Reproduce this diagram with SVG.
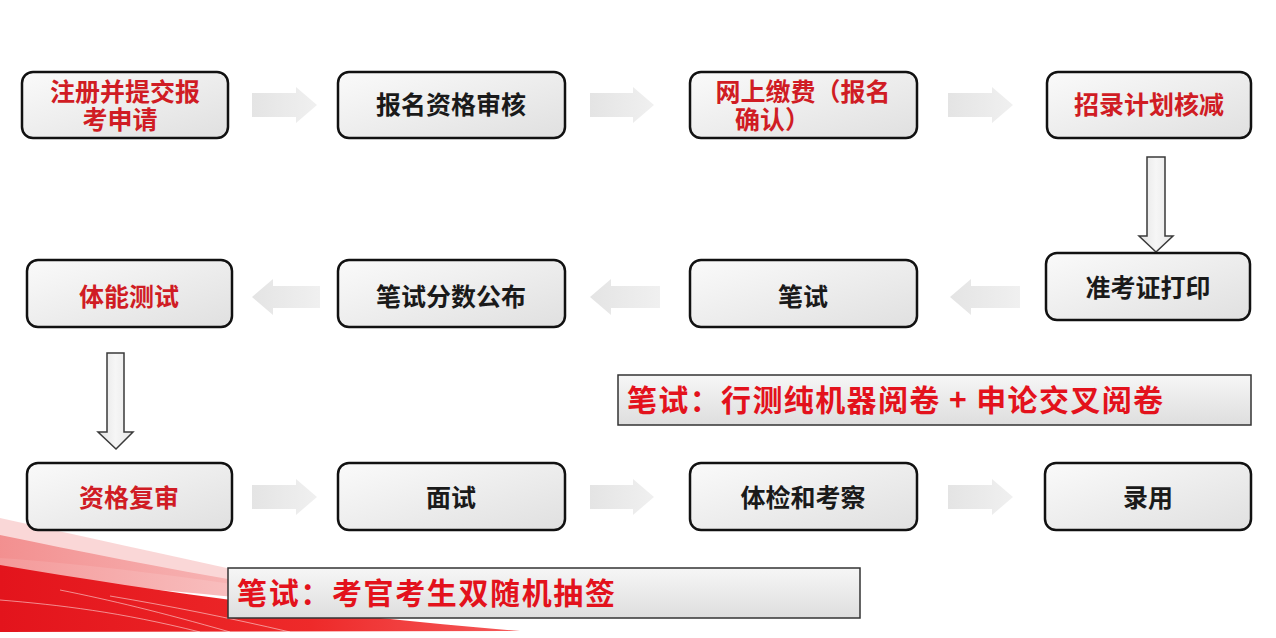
<svg xmlns="http://www.w3.org/2000/svg" width="1276" height="638" viewBox="0 0 1276 638">
<defs>
  <linearGradient id="boxg" x1="0" y1="0" x2="1" y2="1">
    <stop offset="0" stop-color="#fafafa"/>
    <stop offset="1" stop-color="#e0e0e0"/>
  </linearGradient>
  <linearGradient id="arrg" x1="0" y1="0" x2="1" y2="0">
    <stop offset="0" stop-color="#e4e4e4"/>
    <stop offset="1" stop-color="#f0f0f0"/>
  </linearGradient>
  <linearGradient id="varrg" x1="0" y1="0" x2="1" y2="0">
    <stop offset="0" stop-color="#e2e2e2"/>
    <stop offset="0.5" stop-color="#f6f6f6"/>
    <stop offset="1" stop-color="#e6e6e6"/>
  </linearGradient>
  <linearGradient id="callg" x1="0" y1="0" x2="0" y2="1">
    <stop offset="0" stop-color="#f6f6f6"/>
    <stop offset="1" stop-color="#dedede"/>
  </linearGradient>
  <linearGradient id="redg" x1="0" y1="0" x2="1" y2="0">
    <stop offset="0" stop-color="#e3141c"/>
    <stop offset="0.6" stop-color="#ee2a2a"/>
    <stop offset="1" stop-color="#f55a5a"/>
  </linearGradient>
  <linearGradient id="pinkg" x1="0" y1="0" x2="1" y2="0">
    <stop offset="0" stop-color="#f07878"/>
    <stop offset="1" stop-color="#fbd0d0"/>
  </linearGradient>
  <style>
    .box { fill: url(#boxg); stroke: #111; stroke-width: 2.5; }
    .t { font-family: "Liberation Serif", "Noto Sans CJK SC", serif; font-weight: bold; font-size: 25px; text-anchor: middle; }
    .red { fill: #d01c24; }
    .blk { fill: #1a1a1a; }
    .harr { fill: url(#arrg); }
    .varr { fill: url(#varrg); stroke: #3a3a3a; stroke-width: 1.5; }
    .call { fill: url(#callg); stroke: #333; stroke-width: 1.5; }
    .ct { font-family: "Noto Sans CJK SC", sans-serif; font-weight: bold; font-size: 30px; fill: #e3121c; }
  </style>
</defs>
<rect width="1276" height="638" fill="#ffffff"/>

<!-- red swoosh decoration -->
<g id="swoosh">
  <path d="M0,518 C100,540 210,565 340,592 L340,600 C210,580 100,565 0,558 Z" fill="#f8c6c6" opacity="0.7"/>
  <path d="M0,535 C120,560 250,585 420,610 L420,616 C250,598 120,585 0,578 Z" fill="url(#pinkg)" opacity="0.75"/>
  <path d="M0,565 C150,590 320,615 520,631 L0,632 Z" fill="url(#redg)"/>
  <path d="M0,600 C60,605 120,612 200,632 M60,590 C110,600 160,612 230,632 M110,596 C170,606 230,618 290,632" stroke="#ffffff" stroke-width="1" fill="none" opacity="0.5"/>
</g>

<!-- connectors -->
<g id="connectors">
  <path class="harr" d="M252,93 H296 V87 L317,105 L296,123 V117 H252 Z"/>
  <path class="harr" d="M590,93 H633 V87 L654,105 L633,123 V117 H590 Z"/>
  <path class="harr" d="M948,93 H992 V87 L1013,105 L992,123 V117 H948 Z"/>
  <path class="varr" d="M1147,157 H1165 V236 H1173 L1156,252 L1139,236 H1147 Z"/>
  <path class="harr" d="M1020,286 H971 V279 L950,297 L971,315 V308 H1020 Z"/>
  <path class="harr" d="M660,286 H611 V279 L590,297 L611,315 V308 H660 Z"/>
  <path class="harr" d="M320,286 H273 V279 L252,297 L273,315 V308 H320 Z"/>
  <path class="varr" d="M107,353 H124 V432 H133 L116,449 L98,432 H107 Z"/>
  <path class="harr" d="M252,485 H296 V479 L317,497 L296,515 V509 H252 Z"/>
  <path class="harr" d="M590,485 H633 V479 L654,497 L633,515 V509 H590 Z"/>
  <path class="harr" d="M948,485 H992 V479 L1013,497 L992,515 V509 H948 Z"/>
</g>

<!-- row 1 -->
<g id="n1"><rect class="box" x="22" y="72" width="206" height="66" rx="11"/>
  <text class="t red" x="125" y="101">注册并提交报</text>
  <text class="t red" x="120" y="129">考申请</text></g>
<g id="n2"><rect class="box" x="338" y="72" width="227" height="66" rx="11"/>
  <text class="t blk" x="451" y="114">报名资格审核</text></g>
<g id="n3"><rect class="box" x="690" y="72" width="227" height="66" rx="11"/>
  <text class="t red" x="803" y="101">网上缴费（报名</text>
  <text class="t red" x="735" y="129" style="text-anchor:start">确认）</text></g>
<g id="n4"><rect class="box" x="1047" y="72" width="204" height="66" rx="11"/>
  <text class="t red" x="1149" y="114">招录计划核减</text></g>

<!-- row 2 -->
<g id="n5"><rect class="box" x="1046" y="253" width="204" height="67" rx="11"/>
  <text class="t blk" x="1148" y="297">准考证打印</text></g>
<g id="n6"><rect class="box" x="690" y="260" width="227" height="67" rx="11"/>
  <text class="t blk" x="803" y="306">笔试</text></g>
<g id="n7"><rect class="box" x="338" y="260" width="227" height="67" rx="11"/>
  <text class="t blk" x="451" y="306">笔试分数公布</text></g>
<g id="n8"><rect class="box" x="27" y="260" width="205" height="67" rx="11"/>
  <text class="t red" x="129" y="306">体能测试</text></g>

<!-- row 3 -->
<g id="n9"><rect class="box" x="27" y="463" width="205" height="67" rx="11"/>
  <text class="t red" x="129" y="507">资格复审</text></g>
<g id="n10"><rect class="box" x="338" y="463" width="227" height="67" rx="11"/>
  <text class="t blk" x="451" y="507">面试</text></g>
<g id="n11"><rect class="box" x="690" y="463" width="227" height="67" rx="11"/>
  <text class="t blk" x="803" y="507">体检和考察</text></g>
<g id="n12"><rect class="box" x="1045" y="463" width="206" height="67" rx="11"/>
  <text class="t blk" x="1148" y="507">录用</text></g>

<!-- callouts -->
<g id="callout1"><rect class="call" x="618" y="375" width="633" height="50"/>
  <text class="ct" x="627" y="411" textLength="536" lengthAdjust="spacing">笔试：行测纯机器阅卷 + 申论交叉阅卷</text></g>
<g id="callout2"><rect class="call" x="228" y="568" width="632" height="50"/>
  <text class="ct" x="237" y="604" textLength="378" lengthAdjust="spacing">笔试：考官考生双随机抽签</text></g>
</svg>
